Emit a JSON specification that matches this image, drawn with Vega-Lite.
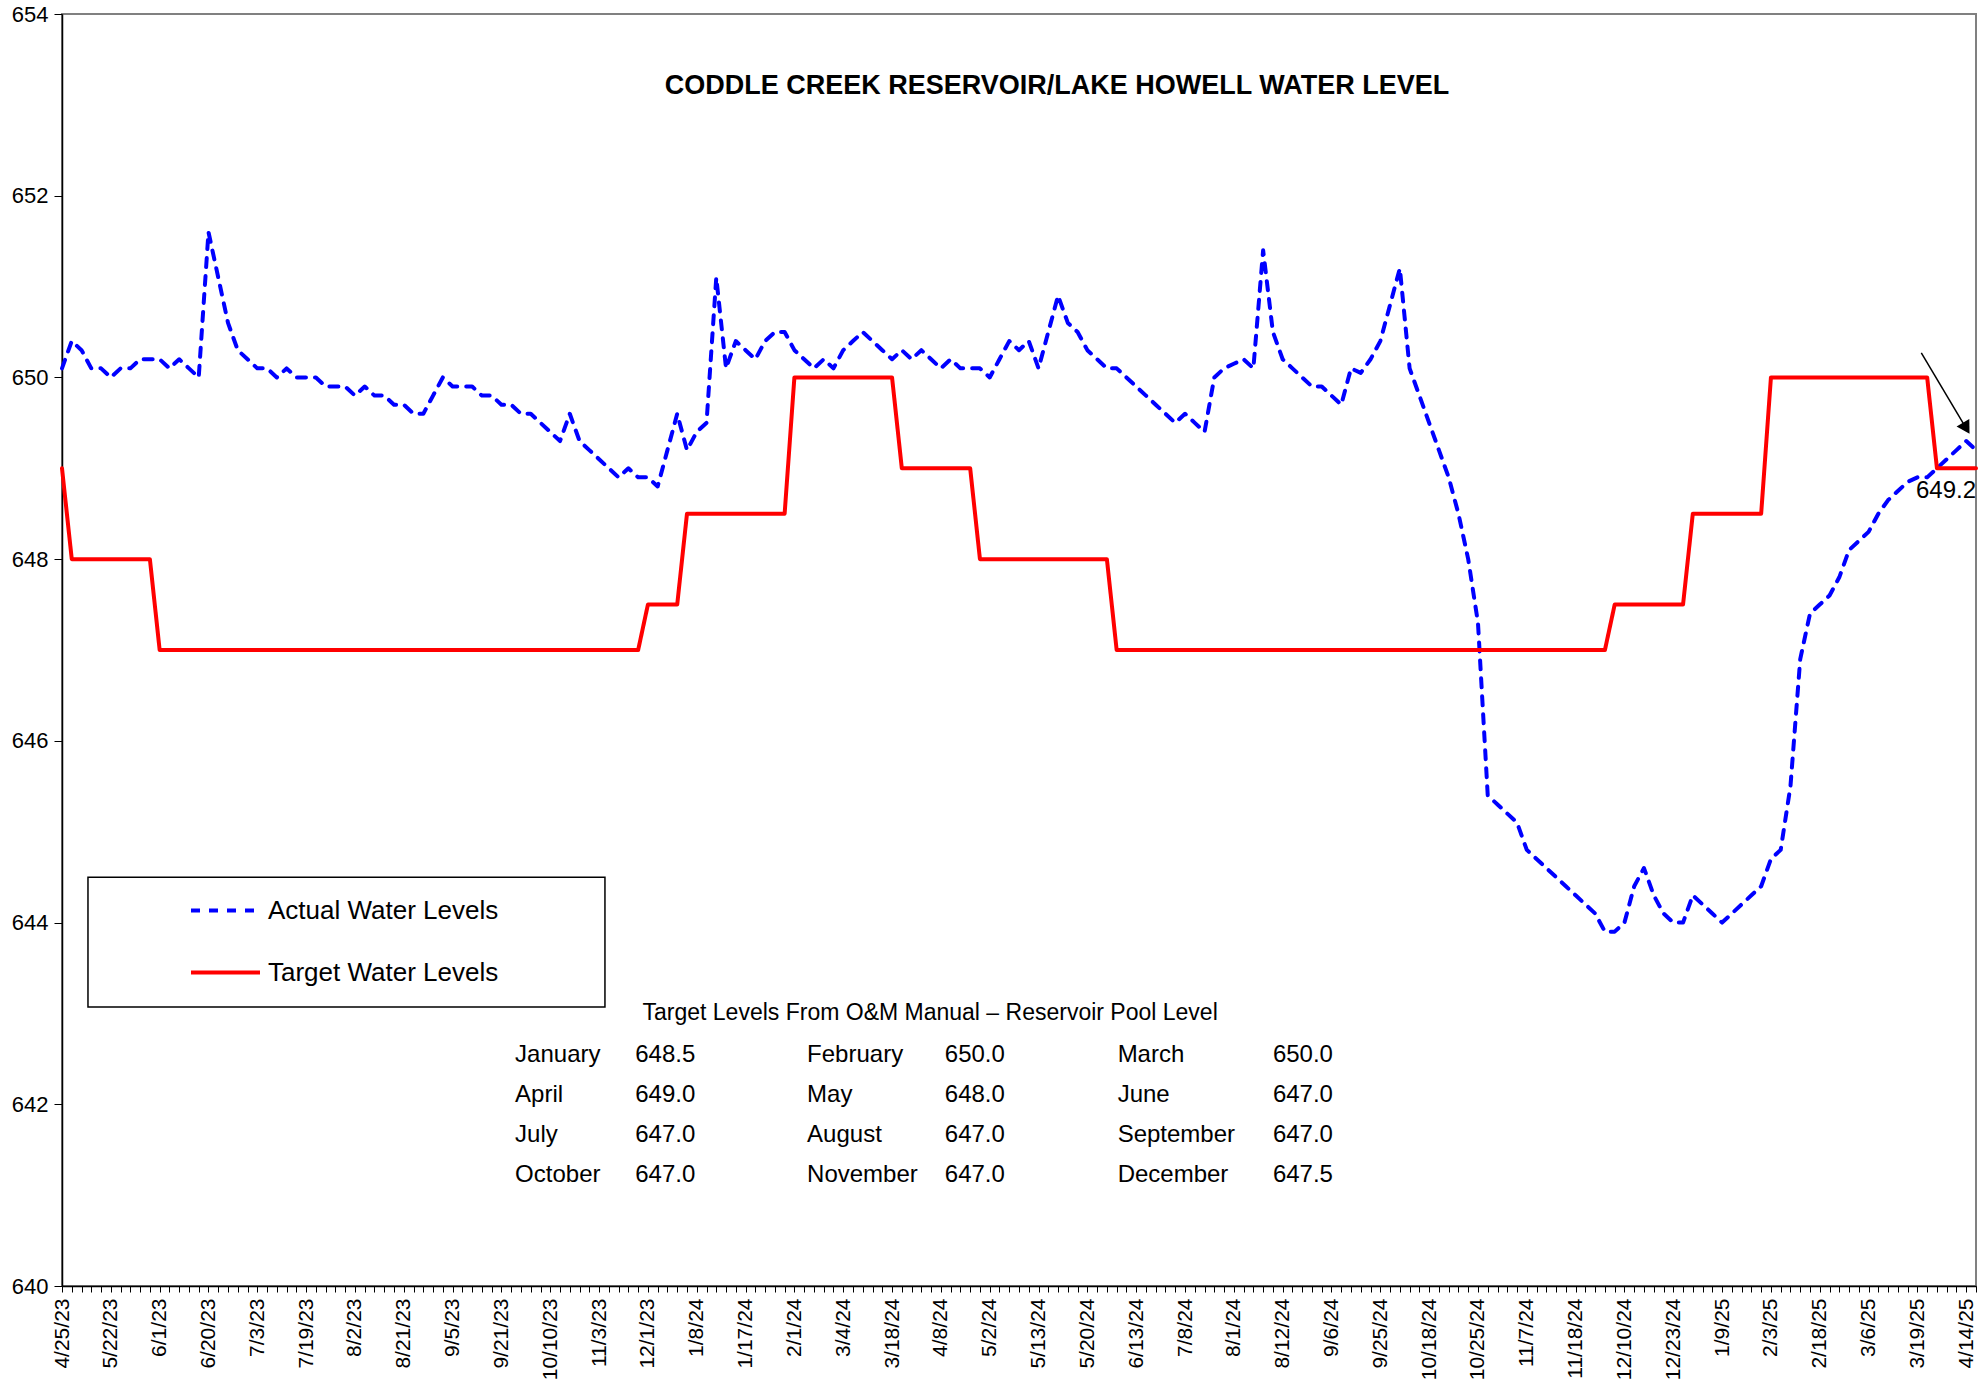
{
  "$schema": "https://vega.github.io/schema/vega-lite/v6.json",
  "width": 1914,
  "height": 1272,
  "autosize": {"type": "none"},
  "padding": {"left": 62, "top": 14, "right": 2, "bottom": 93},
  "background": "white",
  "title": {
    "text": "CODDLE CREEK RESERVOIR/LAKE HOWELL WATER LEVEL",
    "font": "Liberation Sans",
    "fontSize": 27,
    "fontWeight": "bold",
    "color": "black",
    "anchor": "middle",
    "dx": 38,
    "offset": -124,
    "baseline": "bottom"
  },
  "datasets": {
    "levels": [
      {"i":0,"date":"4/25/23","actual":650.1,"target":649},
      {"i":1,"actual":650.4,"target":648},
      {"i":2,"actual":650.3,"target":648},
      {"i":3,"actual":650.1,"target":648},
      {"i":4,"actual":650.1,"target":648},
      {"i":5,"date":"5/22/23","actual":650.0,"target":648},
      {"i":6,"actual":650.1,"target":648},
      {"i":7,"actual":650.1,"target":648},
      {"i":8,"actual":650.2,"target":648},
      {"i":9,"actual":650.2,"target":648},
      {"i":10,"date":"6/1/23","actual":650.2,"target":647},
      {"i":11,"actual":650.1,"target":647},
      {"i":12,"actual":650.2,"target":647},
      {"i":13,"actual":650.1,"target":647},
      {"i":14,"actual":650.0,"target":647},
      {"i":15,"date":"6/20/23","actual":651.6,"target":647},
      {"i":16,"actual":651.1,"target":647},
      {"i":17,"actual":650.6,"target":647},
      {"i":18,"actual":650.3,"target":647},
      {"i":19,"actual":650.2,"target":647},
      {"i":20,"date":"7/3/23","actual":650.1,"target":647},
      {"i":21,"actual":650.1,"target":647},
      {"i":22,"actual":650.0,"target":647},
      {"i":23,"actual":650.1,"target":647},
      {"i":24,"actual":650.0,"target":647},
      {"i":25,"date":"7/19/23","actual":650.0,"target":647},
      {"i":26,"actual":650.0,"target":647},
      {"i":27,"actual":649.9,"target":647},
      {"i":28,"actual":649.9,"target":647},
      {"i":29,"actual":649.9,"target":647},
      {"i":30,"date":"8/2/23","actual":649.8,"target":647},
      {"i":31,"actual":649.9,"target":647},
      {"i":32,"actual":649.8,"target":647},
      {"i":33,"actual":649.8,"target":647},
      {"i":34,"actual":649.7,"target":647},
      {"i":35,"date":"8/21/23","actual":649.7,"target":647},
      {"i":36,"actual":649.6,"target":647},
      {"i":37,"actual":649.6,"target":647},
      {"i":38,"actual":649.8,"target":647},
      {"i":39,"actual":650.0,"target":647},
      {"i":40,"date":"9/5/23","actual":649.9,"target":647},
      {"i":41,"actual":649.9,"target":647},
      {"i":42,"actual":649.9,"target":647},
      {"i":43,"actual":649.8,"target":647},
      {"i":44,"actual":649.8,"target":647},
      {"i":45,"date":"9/21/23","actual":649.7,"target":647},
      {"i":46,"actual":649.7,"target":647},
      {"i":47,"actual":649.6,"target":647},
      {"i":48,"actual":649.6,"target":647},
      {"i":49,"actual":649.5,"target":647},
      {"i":50,"date":"10/10/23","actual":649.4,"target":647},
      {"i":51,"actual":649.3,"target":647},
      {"i":52,"actual":649.6,"target":647},
      {"i":53,"actual":649.3,"target":647},
      {"i":54,"actual":649.2,"target":647},
      {"i":55,"date":"11/3/23","actual":649.1,"target":647},
      {"i":56,"actual":649.0,"target":647},
      {"i":57,"actual":648.9,"target":647},
      {"i":58,"actual":649.0,"target":647},
      {"i":59,"actual":648.9,"target":647},
      {"i":60,"date":"12/1/23","actual":648.9,"target":647.5},
      {"i":61,"actual":648.8,"target":647.5},
      {"i":62,"actual":649.2,"target":647.5},
      {"i":63,"actual":649.6,"target":647.5},
      {"i":64,"actual":649.2,"target":648.5},
      {"i":65,"date":"1/8/24","actual":649.4,"target":648.5},
      {"i":66,"actual":649.5,"target":648.5},
      {"i":67,"actual":651.1,"target":648.5},
      {"i":68,"actual":650.1,"target":648.5},
      {"i":69,"actual":650.4,"target":648.5},
      {"i":70,"date":"1/17/24","actual":650.3,"target":648.5},
      {"i":71,"actual":650.2,"target":648.5},
      {"i":72,"actual":650.4,"target":648.5},
      {"i":73,"actual":650.5,"target":648.5},
      {"i":74,"actual":650.5,"target":648.5},
      {"i":75,"date":"2/1/24","actual":650.3,"target":650},
      {"i":76,"actual":650.2,"target":650},
      {"i":77,"actual":650.1,"target":650},
      {"i":78,"actual":650.2,"target":650},
      {"i":79,"actual":650.1,"target":650},
      {"i":80,"date":"3/4/24","actual":650.3,"target":650},
      {"i":81,"actual":650.4,"target":650},
      {"i":82,"actual":650.5,"target":650},
      {"i":83,"actual":650.4,"target":650},
      {"i":84,"actual":650.3,"target":650},
      {"i":85,"date":"3/18/24","actual":650.2,"target":650},
      {"i":86,"actual":650.3,"target":649},
      {"i":87,"actual":650.2,"target":649},
      {"i":88,"actual":650.3,"target":649},
      {"i":89,"actual":650.2,"target":649},
      {"i":90,"date":"4/8/24","actual":650.1,"target":649},
      {"i":91,"actual":650.2,"target":649},
      {"i":92,"actual":650.1,"target":649},
      {"i":93,"actual":650.1,"target":649},
      {"i":94,"actual":650.1,"target":648},
      {"i":95,"date":"5/2/24","actual":650.0,"target":648},
      {"i":96,"actual":650.2,"target":648},
      {"i":97,"actual":650.4,"target":648},
      {"i":98,"actual":650.3,"target":648},
      {"i":99,"actual":650.4,"target":648},
      {"i":100,"date":"5/13/24","actual":650.1,"target":648},
      {"i":101,"actual":650.5,"target":648},
      {"i":102,"actual":650.9,"target":648},
      {"i":103,"actual":650.6,"target":648},
      {"i":104,"actual":650.5,"target":648},
      {"i":105,"date":"5/20/24","actual":650.3,"target":648},
      {"i":106,"actual":650.2,"target":648},
      {"i":107,"actual":650.1,"target":648},
      {"i":108,"actual":650.1,"target":647},
      {"i":109,"actual":650.0,"target":647},
      {"i":110,"date":"6/13/24","actual":649.9,"target":647},
      {"i":111,"actual":649.8,"target":647},
      {"i":112,"actual":649.7,"target":647},
      {"i":113,"actual":649.6,"target":647},
      {"i":114,"actual":649.5,"target":647},
      {"i":115,"date":"7/8/24","actual":649.6,"target":647},
      {"i":116,"actual":649.5,"target":647},
      {"i":117,"actual":649.4,"target":647},
      {"i":118,"actual":650.0,"target":647},
      {"i":119,"actual":650.1,"target":647},
      {"i":120,"date":"8/1/24","actual":650.15,"target":647},
      {"i":121,"actual":650.2,"target":647},
      {"i":122,"actual":650.1,"target":647},
      {"i":123,"actual":651.4,"target":647},
      {"i":124,"actual":650.5,"target":647},
      {"i":125,"date":"8/12/24","actual":650.2,"target":647},
      {"i":126,"actual":650.1,"target":647},
      {"i":127,"actual":650.0,"target":647},
      {"i":128,"actual":649.9,"target":647},
      {"i":129,"actual":649.9,"target":647},
      {"i":130,"date":"9/6/24","actual":649.8,"target":647},
      {"i":131,"actual":649.7,"target":647},
      {"i":132,"actual":650.1,"target":647},
      {"i":133,"actual":650.05,"target":647},
      {"i":134,"actual":650.2,"target":647},
      {"i":135,"date":"9/25/24","actual":650.4,"target":647},
      {"i":136,"actual":650.8,"target":647},
      {"i":137,"actual":651.2,"target":647},
      {"i":138,"actual":650.1,"target":647},
      {"i":139,"actual":649.8,"target":647},
      {"i":140,"date":"10/18/24","actual":649.5,"target":647},
      {"i":141,"actual":649.2,"target":647},
      {"i":142,"actual":648.9,"target":647},
      {"i":143,"actual":648.5,"target":647},
      {"i":144,"actual":648.0,"target":647},
      {"i":145,"date":"10/25/24","actual":647.3,"target":647},
      {"i":146,"actual":645.4,"target":647},
      {"i":147,"actual":645.3,"target":647},
      {"i":148,"actual":645.2,"target":647},
      {"i":149,"actual":645.1,"target":647},
      {"i":150,"date":"11/7/24","actual":644.8,"target":647},
      {"i":151,"actual":644.7,"target":647},
      {"i":152,"actual":644.6,"target":647},
      {"i":153,"actual":644.5,"target":647},
      {"i":154,"actual":644.4,"target":647},
      {"i":155,"date":"11/18/24","actual":644.3,"target":647},
      {"i":156,"actual":644.2,"target":647},
      {"i":157,"actual":644.1,"target":647},
      {"i":158,"actual":643.9,"target":647},
      {"i":159,"actual":643.9,"target":647.5},
      {"i":160,"date":"12/10/24","actual":644.0,"target":647.5},
      {"i":161,"actual":644.4,"target":647.5},
      {"i":162,"actual":644.6,"target":647.5},
      {"i":163,"actual":644.3,"target":647.5},
      {"i":164,"actual":644.1,"target":647.5},
      {"i":165,"date":"12/23/24","actual":644.0,"target":647.5},
      {"i":166,"actual":644.0,"target":647.5},
      {"i":167,"actual":644.3,"target":648.5},
      {"i":168,"actual":644.2,"target":648.5},
      {"i":169,"actual":644.1,"target":648.5},
      {"i":170,"date":"1/9/25","actual":644.0,"target":648.5},
      {"i":171,"actual":644.1,"target":648.5},
      {"i":172,"actual":644.2,"target":648.5},
      {"i":173,"actual":644.3,"target":648.5},
      {"i":174,"actual":644.4,"target":648.5},
      {"i":175,"date":"2/3/25","actual":644.7,"target":650},
      {"i":176,"actual":644.8,"target":650},
      {"i":177,"actual":645.5,"target":650},
      {"i":178,"actual":646.9,"target":650},
      {"i":179,"actual":647.4,"target":650},
      {"i":180,"date":"2/18/25","actual":647.5,"target":650},
      {"i":181,"actual":647.6,"target":650},
      {"i":182,"actual":647.8,"target":650},
      {"i":183,"actual":648.1,"target":650},
      {"i":184,"actual":648.2,"target":650},
      {"i":185,"date":"3/6/25","actual":648.3,"target":650},
      {"i":186,"actual":648.5,"target":650},
      {"i":187,"actual":648.65,"target":650},
      {"i":188,"actual":648.75,"target":650},
      {"i":189,"actual":648.85,"target":650},
      {"i":190,"date":"3/19/25","actual":648.9,"target":650},
      {"i":191,"actual":648.9,"target":650},
      {"i":192,"actual":649.0,"target":649},
      {"i":193,"actual":649.1,"target":649},
      {"i":194,"actual":649.2,"target":649},
      {"i":195,"date":"4/14/25","actual":649.3,"target":649},
      {"i":196,"actual":649.2,"target":649}
    ],
    "manual": [
      {"col":1,"months":["January","April","July","October"],"levels":["648.5","649.0","647.0","647.0"]},
      {"col":2,"months":["February","May","August","November"],"levels":["650.0","648.0","647.0","647.0"]},
      {"col":3,"months":["March","June","September","December"],"levels":["650.0","647.0","647.0","647.5"]}
    ]
  },
  "data": {"name": "levels"},
  "layer": [
    {
      "data": {"values": [{}]},
      "mark": {"type": "rect", "fill": "white", "stroke": "black", "strokeWidth": 1.5},
      "encoding": {
        "x": {"datum": 2.66, "type": "quantitative"},
        "x2": {"datum": 55.6},
        "y": {"datum": 644.5, "type": "quantitative"},
        "y2": {"datum": 643.07}
      }
    },
    {
      "transform": [{"fold": ["actual", "target"], "as": ["series", "level"]}],
      "mark": {"type": "line", "strokeWidth": 4, "strokeCap": "round", "strokeJoin": "round"},
      "encoding": {
        "x": {
          "field": "i",
          "type": "quantitative",
          "scale": {"domain": [0, 196], "nice": false, "zero": false},
          "axis": {
            "title": null,
            "grid": false,
            "tickCount": 196,
            "tickMinStep": 1,
            "labelOverlap": false,
            "labelBound": false,
            "labelFlush": false,
            "labelExpr": "datum.value % 5 === 0 ? ['4/25/23','5/22/23','6/1/23','6/20/23','7/3/23','7/19/23','8/2/23','8/21/23','9/5/23','9/21/23','10/10/23','11/3/23','12/1/23','1/8/24','1/17/24','2/1/24','3/4/24','3/18/24','4/8/24','5/2/24','5/13/24','5/20/24','6/13/24','7/8/24','8/1/24','8/12/24','9/6/24','9/25/24','10/18/24','10/25/24','11/7/24','11/18/24','12/10/24','12/23/24','1/9/25','2/3/25','2/18/25','3/6/25','3/19/25','4/14/25'][datum.value / 5] : ''",
            "labelAngle": -90,
            "labelFont": "Liberation Sans",
            "labelFontSize": 21,
            "labelColor": "black",
            "labelPadding": 6,
            "tickSize": 6,
            "tickColor": "black",
            "domainColor": "black",
            "domainWidth": 1.5
          }
        },
        "y": {
          "field": "level",
          "type": "quantitative",
          "scale": {"domain": [640, 654], "nice": false, "zero": false},
          "axis": {
            "title": null,
            "grid": false,
            "values": [640, 642, 644, 646, 648, 650, 652, 654],
            "format": "d",
            "labelFont": "Liberation Sans",
            "labelFontSize": 22,
            "labelColor": "black",
            "labelPadding": 6,
            "tickSize": 8,
            "tickColor": "black",
            "domainColor": "black",
            "domainWidth": 1.5
          }
        },
        "color": {
          "field": "series",
          "type": "nominal",
          "scale": {"domain": ["actual", "target"], "range": ["#0000FF", "#FF0000"]},
          "legend": {
            "title": null,
            "orient": "none",
            "legendX": 127,
            "legendY": 860,
            "padding": 0,
            "symbolType": "stroke",
            "symbolSize": 4761,
            "symbolStrokeWidth": 4,
            "labelFont": "Liberation Sans",
            "labelFontSize": 26,
            "labelColor": "black",
            "labelOffset": 6,
            "labelLimit": 500,
            "rowPadding": 12,
            "labelExpr": "datum.value == 'actual' ? 'Actual Water Levels' : 'Target Water Levels'"
          }
        },
        "strokeDash": {
          "field": "series",
          "type": "nominal",
          "scale": {"domain": ["actual", "target"], "range": [[9, 9], [1, 0]]},
          "legend": {
            "title": null,
            "orient": "none",
            "legendX": 127,
            "legendY": 860,
            "padding": 0,
            "symbolType": "stroke",
            "symbolSize": 4761,
            "symbolStrokeWidth": 4,
            "labelFont": "Liberation Sans",
            "labelFontSize": 26,
            "labelColor": "black",
            "labelOffset": 6,
            "labelLimit": 500,
            "rowPadding": 12,
            "labelExpr": "datum.value == 'actual' ? 'Actual Water Levels' : 'Target Water Levels'"
          }
        }
      }
    },
    {
      "data": {"values": [{}]},
      "mark": {"type": "rule", "color": "black", "strokeWidth": 1.5},
      "encoding": {
        "x": {"datum": 190.4, "type": "quantitative"},
        "x2": {"datum": 195.0},
        "y": {"datum": 650.27, "type": "quantitative"},
        "y2": {"datum": 649.44}
      }
    },
    {
      "data": {"values": [{}]},
      "mark": {"type": "point", "shape": "triangle-up", "filled": true, "color": "black", "opacity": 1, "size": 220, "angle": 149},
      "encoding": {
        "x": {"datum": 195.0, "type": "quantitative"},
        "y": {"datum": 649.44, "type": "quantitative"}
      }
    },
    {
      "transform": [{"filter": "datum.i === 196"}],
      "mark": {"type": "text", "align": "right", "baseline": "middle", "dy": 41, "font": "Liberation Sans", "fontSize": 24, "color": "black"},
      "encoding": {
        "x": {"field": "i", "type": "quantitative"},
        "y": {"field": "actual", "type": "quantitative"},
        "text": {"field": "actual", "type": "quantitative", "format": ".1f"}
      }
    },
    {
      "data": {"values": [{}]},
      "mark": {"type": "text", "align": "center", "baseline": "middle", "font": "Liberation Sans", "fontSize": 23, "color": "black"},
      "encoding": {
        "x": {"datum": 88.9, "type": "quantitative"},
        "y": {"datum": 643.0, "type": "quantitative"},
        "text": {"value": "Target Levels From O&M Manual – Reservoir Pool Level"}
      }
    },
    {
      "data": {"name": "manual"},
      "transform": [{"filter": "datum.col === 1"}],
      "mark": {"type": "text", "align": "left", "baseline": "alphabetic", "lineHeight": 40, "font": "Liberation Sans", "fontSize": 24, "color": "black"},
      "encoding": {
        "x": {"datum": 46.4, "type": "quantitative"},
        "y": {"datum": 642.47, "type": "quantitative"},
        "text": {"field": "months", "type": "nominal"}
      }
    },
    {
      "data": {"name": "manual"},
      "transform": [{"filter": "datum.col === 1"}],
      "mark": {"type": "text", "align": "left", "baseline": "alphabetic", "lineHeight": 40, "font": "Liberation Sans", "fontSize": 24, "color": "black"},
      "encoding": {
        "x": {"datum": 58.7, "type": "quantitative"},
        "y": {"datum": 642.47, "type": "quantitative"},
        "text": {"field": "levels", "type": "nominal"}
      }
    },
    {
      "data": {"name": "manual"},
      "transform": [{"filter": "datum.col === 2"}],
      "mark": {"type": "text", "align": "left", "baseline": "alphabetic", "lineHeight": 40, "font": "Liberation Sans", "fontSize": 24, "color": "black"},
      "encoding": {
        "x": {"datum": 76.3, "type": "quantitative"},
        "y": {"datum": 642.47, "type": "quantitative"},
        "text": {"field": "months", "type": "nominal"}
      }
    },
    {
      "data": {"name": "manual"},
      "transform": [{"filter": "datum.col === 2"}],
      "mark": {"type": "text", "align": "left", "baseline": "alphabetic", "lineHeight": 40, "font": "Liberation Sans", "fontSize": 24, "color": "black"},
      "encoding": {
        "x": {"datum": 90.4, "type": "quantitative"},
        "y": {"datum": 642.47, "type": "quantitative"},
        "text": {"field": "levels", "type": "nominal"}
      }
    },
    {
      "data": {"name": "manual"},
      "transform": [{"filter": "datum.col === 3"}],
      "mark": {"type": "text", "align": "left", "baseline": "alphabetic", "lineHeight": 40, "font": "Liberation Sans", "fontSize": 24, "color": "black"},
      "encoding": {
        "x": {"datum": 108.1, "type": "quantitative"},
        "y": {"datum": 642.47, "type": "quantitative"},
        "text": {"field": "months", "type": "nominal"}
      }
    },
    {
      "data": {"name": "manual"},
      "transform": [{"filter": "datum.col === 3"}],
      "mark": {"type": "text", "align": "left", "baseline": "alphabetic", "lineHeight": 40, "font": "Liberation Sans", "fontSize": 24, "color": "black"},
      "encoding": {
        "x": {"datum": 124.0, "type": "quantitative"},
        "y": {"datum": 642.47, "type": "quantitative"},
        "text": {"field": "levels", "type": "nominal"}
      }
    }
  ],
  "config": {
    "view": {"stroke": "#808080", "strokeWidth": 2},
    "font": "Liberation Sans"
  }
}
